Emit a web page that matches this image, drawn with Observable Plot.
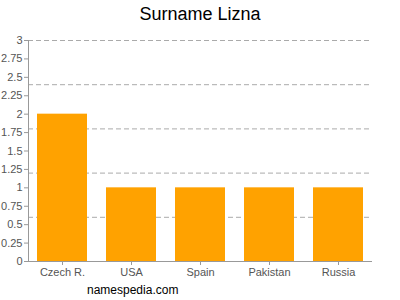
<!DOCTYPE html>
<html><head>
<meta charset="utf-8">
<script src="https://cdn.jsdelivr.net/npm/d3@7"></script>
<script src="https://cdn.jsdelivr.net/npm/@observablehq/plot@0.6"></script>
<style>
body{margin:0;background:#fff}
#wrap{position:relative;width:400px;height:300px;font-family:"Liberation Sans",Arial,sans-serif}
#title{position:absolute;top:4px;left:0;width:400px;text-align:center;font-size:18px;color:#000;z-index:2}
#cap{position:absolute;left:87px;top:283px;font-size:12px;color:#000;z-index:2}
#chart{position:absolute;left:0;top:0}
</style></head><body>
<div id="wrap"><div id="title">Surname Lizna</div><div id="chart"></div><div id="cap">namespedia.com</div></div>
<script>
const countries = ["Czech R.","USA","Spain","Pakistan","Russia"];
const counts = [2,1,1,1,1];
const yTicks = [0,0.25,0.5,0.75,1,1.25,1.5,1.75,2,2.25,2.5,2.75,3];
const gridLines = [0.6,1.2,1.8,2.4,3];

const data = countries.map((c,i)=>({country:c,count:counts[i]}));

const chart = Plot.plot({
  width:400, height:300,
  marginTop:40, marginBottom:39, marginLeft:28, marginRight:28,
  style:{fontFamily:"'Liberation Sans',Arial,sans-serif", fontSize:"11px", background:"transparent"},
  x:{domain:countries, paddingInner:0.275, paddingOuter:0.13, label:null},
  y:{domain:[0,3], label:null},
  marks:[
    Plot.ruleY(gridLines,{stroke:"#aaa", strokeDasharray:"5,3", strokeWidth:1}),
    Plot.barY(data,{x:"country", y:"count", fill:"#ffa200"}),
    Plot.axisY({ticks:yTicks, tickSize:4, tickPadding:2, color:"#555", stroke:"#999", fontSize:11, tickFormat:d3.format("")}),
    Plot.axisX({tickSize:4, tickPadding:3, color:"#555", stroke:"#999", fontSize:11}),
    Plot.frame({anchor:"left", stroke:"#999"}),
    Plot.ruleY([0],{stroke:"#999"})
  ]
});
document.getElementById("chart").appendChild(chart);
</script>
</body></html>
